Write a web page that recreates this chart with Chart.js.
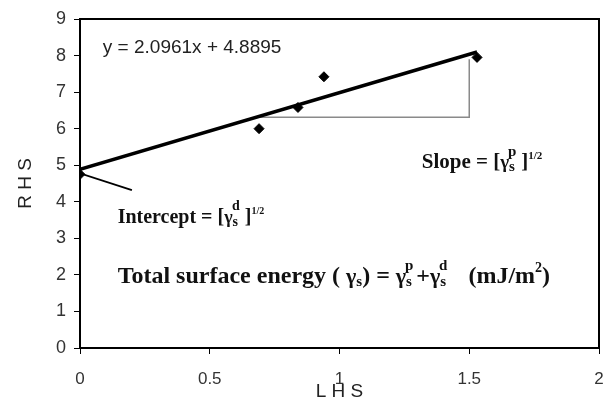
<!DOCTYPE html>
<html>
<head>
<meta charset="utf-8">
<script src="https://cdn.jsdelivr.net/npm/chart.js@4.4.1/dist/chart.umd.min.js"></script>
<style>
  html, body { margin: 0; padding: 0; background: #fff; }
  #wrap { width: 605px; height: 405px; }
</style>
</head>
<body>
<div id="wrap"><canvas id="myChart" width="605" height="405"></canvas></div>
<script>
// measured points (LHS, RHS)
const lhs = [0, 0.69, 0.84, 0.94, 1.53];
const rhs = [4.75, 6.0, 6.58, 7.42, 7.95];

// trend line y = 2.0961x + 4.8895, end points
const fitLhs = [0, 1.53];
const fitRhs = [4.8895, 8.097];

// slope triangle
const triLhs = [0.68, 1.5, 1.5];
const triRhs = [6.31, 6.31, 7.9];

// pointer to the intercept
const arrowLhs = [0, 0.2];
const arrowRhs = [4.78, 4.32];

const xTickLabels = ['0', '0.5', '1', '1.5', '2'];
const yTickLabels = ['0', '1', '2', '3', '4', '5', '6', '7', '8', '9'];

const sans = '"Liberation Sans", Arial, sans-serif';
const serif = '"Liberation Serif", "Times New Roman", serif';

const toPts = (xs, ys) => xs.map((x, i) => ({ x: x, y: ys[i] }));

// draws a run of text pieces, each with its own size and vertical shift
function drawRich(ctx, x, y, parts, family) {
  let cx = x;
  parts.forEach(p => {
    ctx.font = 'bold ' + p.size + 'px ' + family;
    ctx.fillText(p.t, cx, y - (p.dy || 0));
    cx += ctx.measureText(p.t).width + (p.gap || 0);
  });
}

const annotations = {
  id: 'annotations',
  beforeDatasetsDraw(chart) {
    const { ctx, chartArea } = chart;
    ctx.save();
    ctx.strokeStyle = '#000';
    ctx.lineWidth = 2;
    ctx.beginPath();
    ctx.moveTo(chartArea.left, chartArea.top);
    ctx.lineTo(chartArea.right, chartArea.top);
    ctx.lineTo(chartArea.right, chartArea.bottom);
    ctx.stroke();
    ctx.restore();
  },
  afterDraw(chart) {
    const { ctx, chartArea } = chart;
    const xs = chart.scales.x, ys = chart.scales.y;
    ctx.save();

    // x tick labels drawn here so the "2" can run off the edge as in the original
    ctx.fillStyle = '#333';
    ctx.font = '17px ' + sans;
    ctx.textAlign = 'center';
    ctx.textBaseline = 'middle';
    xTickLabels.forEach(l => {
      ctx.fillText(l, xs.getPixelForValue(parseFloat(l)), chartArea.bottom + 31);
    });

    ctx.fillStyle = '#222';
    ctx.textBaseline = 'alphabetic';
    ctx.textAlign = 'left';
    ctx.font = '19px ' + sans;
    ctx.fillText('y = 2.0961x + 4.8895', xs.getPixelForValue(0.088), ys.getPixelForValue(8.07));

    ctx.fillStyle = '#111';
    drawRich(ctx, xs.getPixelForValue(1.317), ys.getPixelForValue(4.92), [
      { t: 'Slope = [', size: 21 },
      { t: 'γ', size: 19 },
      { t: 's', size: 15, dy: -3, gap: -7 },
      { t: 'p', size: 15, dy: 12, gap: 5 },
      { t: ']', size: 21 },
      { t: '1/2', size: 11, dy: 9 }
    ], serif);

    drawRich(ctx, xs.getPixelForValue(0.145), ys.getPixelForValue(3.42), [
      { t: 'Intercept = [', size: 20 },
      { t: 'γ', size: 18 },
      { t: 's', size: 14, dy: -3, gap: -6 },
      { t: 'd', size: 14, dy: 13, gap: 5 },
      { t: ']', size: 20 },
      { t: '1/2', size: 10, dy: 9 }
    ], serif);

    drawRich(ctx, xs.getPixelForValue(0.145), ys.getPixelForValue(1.78), [
      { t: 'Total surface energy ( ', size: 24 },
      { t: 'γ', size: 22 },
      { t: 's', size: 15, dy: -3 },
      { t: ') = ', size: 24 },
      { t: 'γ', size: 22 },
      { t: 's', size: 15, dy: -3, gap: -7 },
      { t: 'p', size: 15, dy: 13, gap: 3 },
      { t: '+', size: 24 },
      { t: 'γ', size: 22 },
      { t: 's', size: 15, dy: -3, gap: -7 },
      { t: 'd', size: 15, dy: 13, gap: 3 },
      { t: '   (mJ/m', size: 24 },
      { t: '2', size: 14, dy: 11 },
      { t: ')', size: 24 }
    ], serif);
    ctx.restore();
  }
};

const ctx = document.getElementById('myChart');
new Chart(ctx, {
  type: 'scatter',
  data: {
    datasets: [
      {
        data: toPts(triLhs, triRhs),
        showLine: true,
        borderColor: '#8a8a8a',
        borderWidth: 1.5,
        pointRadius: 0,
        order: 3
      },
      {
        data: toPts(arrowLhs, arrowRhs),
        showLine: true,
        borderColor: '#000',
        borderWidth: 1.8,
        pointRadius: 0,
        order: 2
      },
      {
        data: toPts(fitLhs, fitRhs),
        showLine: true,
        borderColor: '#000',
        borderWidth: 3.5,
        pointRadius: 0,
        order: 1
      },
      {
        data: toPts(lhs, rhs),
        showLine: false,
        pointStyle: 'rectRot',
        pointRadius: 5,
        backgroundColor: '#000',
        borderColor: '#000',
        order: 0
      }
    ]
  },
  options: {
    responsive: false,
    animation: false,
    events: [],
    layout: { padding: { top: 19, right: -1, left: 0, bottom: 0 } },
    plugins: {
      legend: { display: false },
      tooltip: { enabled: false }
    },
    scales: {
      x: {
        type: 'linear',
        min: 0,
        max: 2,
        afterFit: (s) => { s.height = 57; },
        afterBuildTicks: (s) => { s.ticks = xTickLabels.map(v => ({ value: parseFloat(v) })); },
        ticks: { display: false },
        grid: { drawOnChartArea: false, color: '#000', tickLength: 6, lineWidth: 1 },
        border: { color: '#000', width: 2 },
        title: {
          display: true,
          text: 'L H S',
          font: { family: sans, size: 19 },
          color: '#222',
          padding: 2
        }
      },
      y: {
        type: 'linear',
        min: 0,
        max: 9,
        afterFit: (s) => {
          s.width = 80;
          s.paddingTop = 0; s.paddingBottom = 0;
          s.paddingLeft = 0; s.paddingRight = 0;
        },
        afterBuildTicks: (s) => { s.ticks = yTickLabels.map(v => ({ value: parseFloat(v) })); },
        ticks: {
          callback: (v, i) => yTickLabels[i],
          font: { family: sans, size: 18 },
          color: '#333',
          padding: 8
        },
        grid: { drawOnChartArea: false, color: '#000', tickLength: 6, lineWidth: 1 },
        border: { color: '#000', width: 2 },
        title: {
          display: true,
          text: 'R H S',
          font: { family: sans, size: 19 },
          color: '#222',
          padding: 14
        }
      }
    }
  },
  plugins: [annotations]
});
</script>
</body>
</html>
